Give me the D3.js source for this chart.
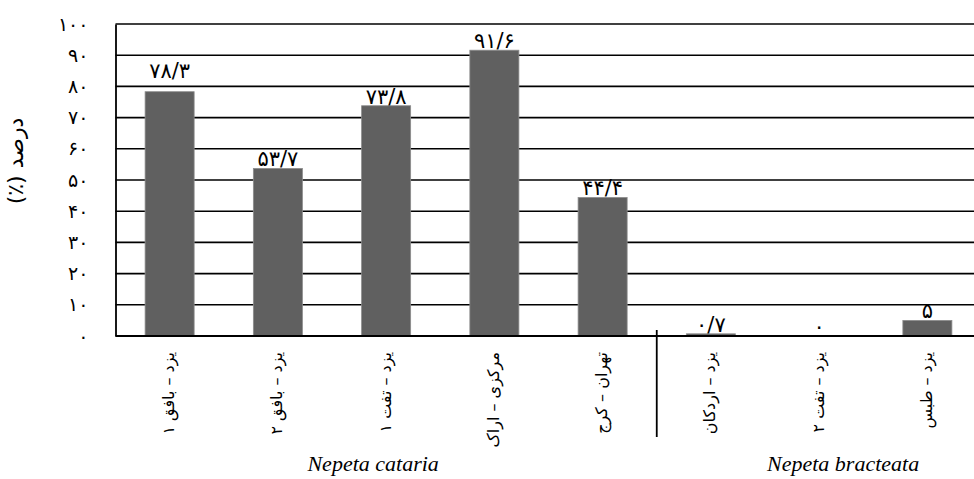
<!DOCTYPE html>
<html>
<head>
<meta charset="utf-8">
<script src="https://cdn.jsdelivr.net/npm/d3@7"></script>
<style>
  html, body { margin: 0; padding: 0; background: #fff; }
  svg { display: block; }
</style>
</head>
<body>
<svg id="chart" width="974" height="479"></svg>
<script>
// ---- data ----
const categories = ["یزد – بافق ۱", "یزد – بافق ۲", "یزد – تفت ۱", "مرکزی – اراک", "تهران – کرج", "یزد – اردکان", "یزد – تفت ۲", "یزد – طبس"];
const values = [78.3, 53.7, 73.8, 91.6, 44.4, 0.7, 0, 5];
const valueLabels = ["۷۸/۳", "۵۳/۷", "۷۳/۸", "۹۱/۶", "۴۴/۴", "۰/۷", "۰", "۵"];
const groupNames = ["Nepeta cataria", "Nepeta bracteata"];
const groupSizes = [5, 3];
const yTicks = [0, 10, 20, 30, 40, 50, 60, 70, 80, 90, 100];
const yTickLabels = ["۰", "۱۰", "۲۰", "۳۰", "۴۰", "۵۰", "۶۰", "۷۰", "۸۰", "۹۰", "۱۰۰"];
const yTitle = "درصد (٪)";

// ---- layout ----
const W = 974, H = 479;
const plot = { left: 115.5, right: 981.5, top: 24, bottom: 336 };
const persianFont = "'DejaVu Sans', sans-serif";
const svg = d3.select("#chart");

const x = d3.scaleBand().domain(d3.range(categories.length))
  .range([plot.left, plot.right]).paddingInner(0.547).paddingOuter(0.2735);
const y = d3.scaleLinear().domain([0, 100]).range([plot.bottom, plot.top]);

// gridlines
svg.append("g").selectAll("line").data(yTicks.filter(d => d > 0)).join("line")
  .attr("x1", plot.left).attr("x2", W)
  .attr("y1", d => y(d)).attr("y2", d => y(d))
  .attr("stroke", "#000").attr("stroke-width", 1.6);

// bars
svg.append("g").selectAll("rect").data(values).join("rect")
  .attr("x", (d, i) => x(i)).attr("width", x.bandwidth())
  .attr("y", d => y(d)).attr("height", d => plot.bottom - y(d))
  .attr("fill", "#606060").attr("stroke", "#8c8c8c").attr("stroke-width", 0.8);

// axes lines
const yAxis = d3.axisLeft(y).tickValues(yTicks).tickFormat((d, i) => yTickLabels[i]).tickSize(0).tickPadding(27);
const gy = svg.append("g").attr("transform", `translate(${plot.left},0)`).call(yAxis);
gy.select(".domain").attr("stroke", "#000").attr("stroke-width", 1.8);
gy.selectAll("text").attr("font-family", persianFont).attr("font-size", 19).attr("fill", "#000");

svg.append("line").attr("x1", plot.left).attr("x2", W)
  .attr("y1", plot.bottom).attr("y2", plot.bottom)
  .attr("stroke", "#000").attr("stroke-width", 1.8);

// value labels
const labelRaise = [12, 0, 0, 0, 0, 0, 0, 0];
svg.append("g").selectAll("text").data(values).join("text")
  .attr("x", (d, i) => x(i) + x.bandwidth() / 2)
  .attr("y", (d, i) => y(d) - 2 - labelRaise[i])
  .attr("text-anchor", "middle")
  .attr("font-family", persianFont).attr("font-size", 21).attr("fill", "#000")
  .text((d, i) => valueLabels[i]);

// category labels (rotated)
svg.append("g").selectAll("text").data(categories).join("text")
  .attr("transform", (d, i) => `translate(${x(i) + x.bandwidth() / 2},352) rotate(-90)`)
  .attr("text-anchor", "end").attr("dominant-baseline", "middle")
  .attr("font-family", persianFont).attr("font-size", 16).attr("fill", "#000")
  .text(d => d);

// group separator
const sepX = plot.left + x.step() * groupSizes[0];
svg.append("line").attr("x1", sepX).attr("x2", sepX)
  .attr("y1", 330).attr("y2", 437).attr("stroke", "#000").attr("stroke-width", 1.8);

// group labels
const groupNudge = [-13, 24];
let start = 0;
groupNames.forEach((g, gi) => {
  const first = start, last = start + groupSizes[gi] - 1;
  const cx = (x(first) + x(last) + x.bandwidth()) / 2 + groupNudge[gi];
  svg.append("text").attr("x", cx).attr("y", 471)
    .attr("text-anchor", "middle")
    .attr("font-family", "'Liberation Serif', 'Times New Roman', serif")
    .attr("font-style", "italic").attr("font-size", 22).attr("fill", "#000")
    .text(g);
  start += groupSizes[gi];
});

// y title
svg.append("text").attr("transform", "translate(17,161) rotate(-90)")
  .attr("text-anchor", "middle").attr("dominant-baseline", "middle")
  .style("direction", "rtl").attr("direction", "rtl")
  .attr("font-family", persianFont).attr("font-size", 22).attr("fill", "#000")
  .text(yTitle);
</script>
</body>
</html>
